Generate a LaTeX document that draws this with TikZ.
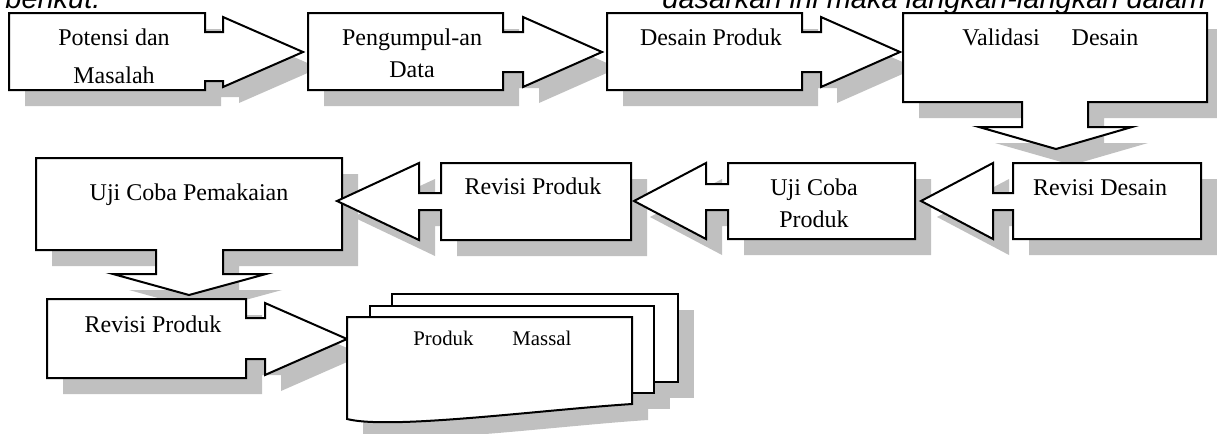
\documentclass[tikz,border=0pt]{standalone}
\usepackage{fontspec}
\setmainfont{Liberation Serif}
\newfontfamily\notefont{Liberation Sans}
\definecolor{shadegray}{RGB}{192,192,192}

\tikzset{
  callout/.style={draw=black, line width=1pt, fill=white, line join=miter,
    preaction={fill=shadegray, transform canvas={shift={(8pt,-8pt)}}}},
  doc/.style={draw=black, line width=1pt, fill=white},
  lbl/.style={inner sep=0pt, anchor=base, font=\fontsize{12}{14}\selectfont},
  smalllbl/.style={inner sep=0pt, anchor=base west, font=\fontsize{10.4}{12}\selectfont},
  note/.style={inner sep=0pt, anchor=base west, font=\notefont\itshape\fontsize{14.5}{17}\selectfont},
}

\begin{document}
\begin{tikzpicture}[x=0.5pt, y=-0.5pt]
        \useasboundingbox (0,0) rectangle (1217,434);

        % Text of the page above the chart (cut off by the page)
        \node[note] (berikut) at (5,8) {berikut.};
        \node[note] (kalimat) at (662,8) {dasarkan ini maka langkah-langkah dalam};

        % Row 1, callouts pointing right
        \draw[callout] (9,13) -- (205,13) -- (205,32) -- (223,32) -- (223,17) -- (303,52) -- (223,87) -- (223,81) -- (205,81) -- (205,90) -- (9,90) -- cycle; % Potensi
        \draw[callout] (308,13) -- (503,13) -- (503,32) -- (523,32) -- (523,17) -- (602,52) -- (523,87) -- (523,72) -- (503,72) -- (503,90) -- (308,90) -- cycle; % Pengumpulan
        \draw[callout] (607,13) -- (802,13) -- (802,32) -- (821,32) -- (821,17) -- (900,52) -- (821,87) -- (821,72) -- (802,72) -- (802,90) -- (607,90) -- cycle; % Desain
        \draw[callout] (903,13) -- (1207,13) -- (1207,102) -- (1088,102) -- (1088,127) -- (1132,127) -- (1056,149) -- (979,127) -- (1022,127) -- (1022,102) -- (903,102) -- cycle; % Validasi, pointing down

        % Row 2, callouts pointing left
        \draw[callout] (36,158) -- (342,158) -- (342,250) -- (223,250) -- (223,274) -- (266,274) -- (189,295) -- (113,274) -- (156,274) -- (156,250) -- (36,250) -- cycle; % Uji coba pemakaian, pointing down
        \draw[callout] (441,163) -- (631,163) -- (631,240) -- (441,240) -- (441,210) -- (419,210) -- (419,240) -- (337,201) -- (419,163) -- (419,193) -- (441,193) -- cycle; % Revisi produk
        \draw[callout] (728,163) -- (915,163) -- (915,239) -- (728,239) -- (728,210) -- (706,210) -- (706,239) -- (634,201) -- (706,163) -- (706,184) -- (728,184) -- cycle; % Uji coba produk
        \draw[callout] (1013,163) -- (1201,163) -- (1201,239) -- (1013,239) -- (1013,210) -- (993,210) -- (993,239) -- (921,201) -- (993,163) -- (993,193) -- (1013,193) -- cycle; % Revisi desain

        % Row 3
        \draw[callout] (47,299) -- (246,299) -- (246,318) -- (265,318) -- (265,303) -- (347,339) -- (265,375) -- (265,359) -- (246,359) -- (246,378) -- (47,378) -- cycle; % Revisi produk

        % Stack of documents, shadows first
        \begin{scope}[shift={(16,16)}]
          \fill[shadegray] (392,294) rectangle (678,382);
          \fill[shadegray] (370,306) rectangle (654,393);
          \fill[shadegray] (347,317) -- (632,317) -- (632,404) .. controls (540,410) and (390,430) .. (347,419) -- cycle;
        \end{scope}
        \draw[doc] (392,294) rectangle (678,382); % back sheet
        \draw[doc] (370,306) rectangle (654,393); % middle sheet
        \draw[doc] (347,317) -- (632,317) -- (632,404) .. controls (540,410) and (390,430) .. (347,419) -- cycle; % front sheet

        % Labels
        \node[lbl] (potensi) at (114,45) {Potensi dan};
        \node[lbl] (masalah) at (114,83) {Masalah};
        \node[lbl] (pengumpulan) at (412,45) {Pengumpul-an};
        \node[lbl] (data) at (412,77) {Data};
        \node[lbl] (desain) at (711,45) {Desain Produk};
        \node[lbl, anchor=base west] (validasi) at (962,45) {Validasi\hspace{16pt}Desain};
        \node[lbl] (pemakaian) at (189,200) {Uji Coba Pemakaian};
        \node[lbl] (revprod) at (533,194) {Revisi Produk};
        \node[lbl] (ujicoba) at (814,195) {Uji Coba};
        \node[lbl] (produk) at (814,227) {Produk};
        \node[lbl] (revdesain) at (1100,195) {Revisi Desain};
        \node[lbl] (revprodb) at (153,332) {Revisi Produk};
        \node[smalllbl] (massal) at (413,345) {Produk\hspace{19.5pt}Massal};

\end{tikzpicture}
\end{document}
